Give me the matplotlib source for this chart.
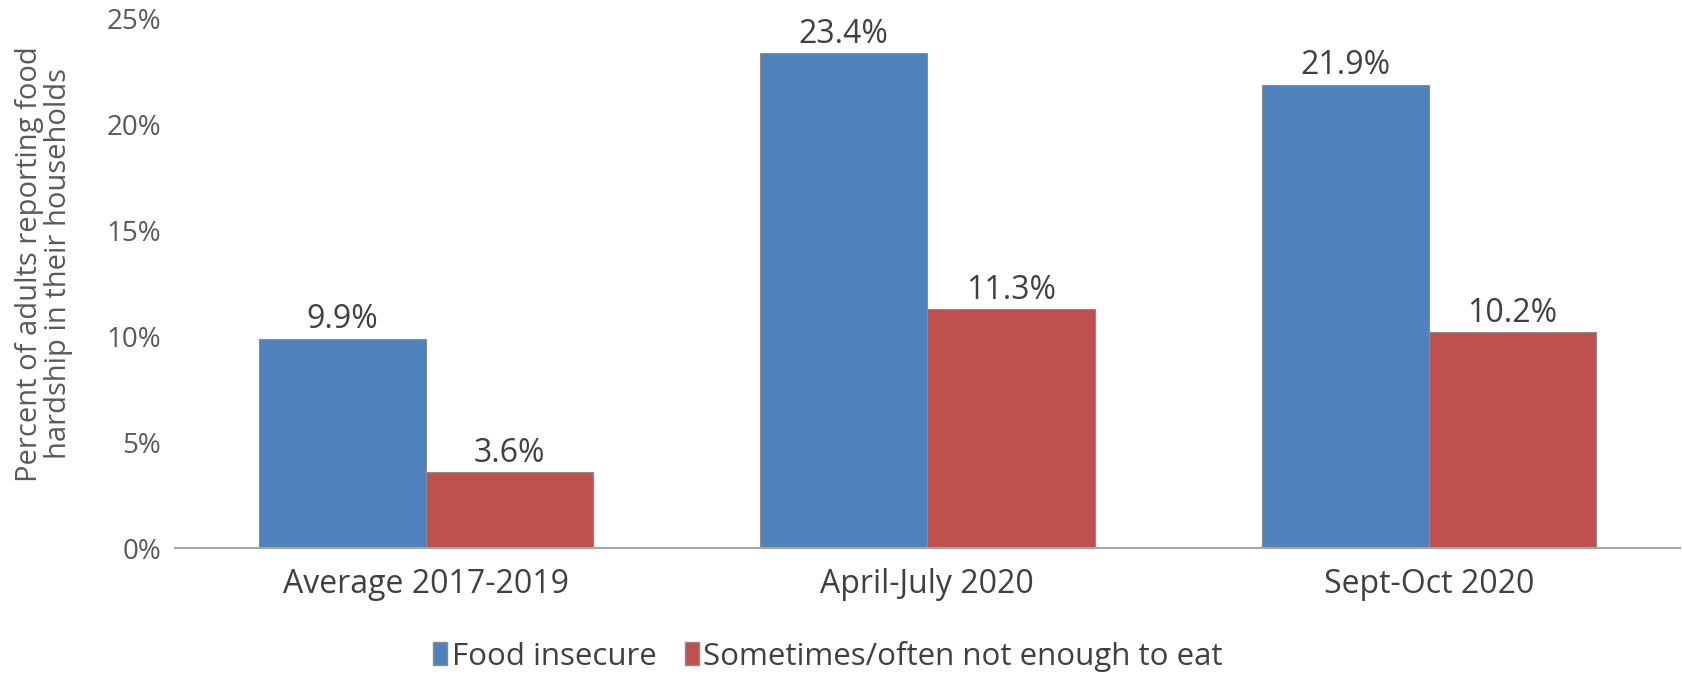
import numpy as np
import matplotlib.pyplot as plt
from matplotlib.patches import Patch

plt.rcParams['font.family'] = ['Open Sans', 'DejaVu Sans']

periods = ['Average 2017-2019', 'April-July 2020', 'Sept-Oct 2020']
food_insecure = [9.9, 23.4, 21.9]
not_enough = [3.6, 11.3, 10.2]
series_names = ['Food insecure', 'Sometimes/often not enough to eat']
yticks = [0, 5, 10, 15, 20, 25]

BLUE = '#4F81BD'
RED = '#C0504D'
GREY = '#595959'

fig = plt.figure(figsize=(16.83, 6.75), dpi=100)
ax = fig.add_axes([0.104, 0.188, 0.894, 0.784])

x = np.arange(len(periods))
w = 1/3
b1 = ax.bar(x - w/2, food_insecure, w, color=BLUE, edgecolor='#8c8c8c', linewidth=0.8)
b2 = ax.bar(x + w/2, not_enough, w, color=RED, edgecolor='#8c8c8c', linewidth=0.8)

# value labels above each bar
for bars, vals in ((b1, food_insecure), (b2, not_enough)):
    for r, v in zip(bars, vals):
        ax.text(r.get_x() + r.get_width()/2, v + 0.1, f'{v:.1f}%', ha='center', va='bottom',
                fontsize=23, color='#404040')

ax.set_xlim(-0.5, 2.5)
ax.set_ylim(0, 25)
ax.set_yticks(yticks)
ax.set_yticklabels([f'{t}%' for t in yticks], fontsize=20, color=GREY)
ax.set_xticks(x)
ax.set_xticklabels(periods, fontsize=23, color='#404040')
ax.tick_params(axis='both', length=0)
ax.tick_params(axis='y', pad=10)
ax.tick_params(axis='x', pad=14)

for s in ('top', 'right', 'left'):
    ax.spines[s].set_visible(False)
ax.spines['bottom'].set_color('#a6a6a6')
ax.spines['bottom'].set_linewidth(1.5)

fig.text(44/1683, 0.609, 'Percent of adults reporting food\nhardship in their households', fontsize=21,
         color=GREY, rotation=90, ha='center', va='center', linespacing=1.0)

handles = [Patch(facecolor=BLUE, edgecolor='#8c8c8c'), Patch(facecolor=RED, edgecolor='#8c8c8c')]
fig.legend(handles, series_names, loc='center', bbox_to_anchor=(0.492, 0.028), ncol=2, frameon=False,
           fontsize=22.5, handlelength=0.45, handleheight=0.75, handletextpad=0.15, columnspacing=0.9,
           labelcolor='#404040')

fig.savefig('out.png', dpi=100)
